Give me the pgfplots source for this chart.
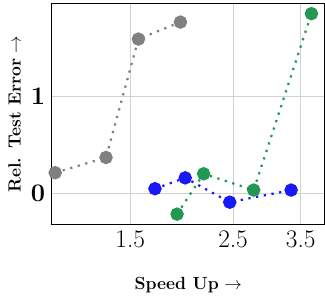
\documentclass[border=0pt]{standalone}
\usepackage{pgfplots}
\pgfplotsset{compat=1.18}
\definecolor{cgray}{RGB}{128,128,128}
\definecolor{cblue}{RGB}{25,25,245}
\definecolor{cgreen}{RGB}{35,152,85}
\begin{document}
\begin{tikzpicture}
\begin{axis}[
  scale only axis, width=268pt, height=217pt,
  xmode=log, xmin=1.016, xmax=3.94, ymin=-0.322, ymax=1.955,
  xtick={1.5,2.5,3.5}, xticklabels={1.5,2.5,3.5},
  ytick={0,1}, yticklabels={$\mathbf{0}$,$\mathbf{1}$},
  tick label style={font=\Huge},
  yticklabel style={xshift=-3pt},
  xticklabel style={yshift=-3pt},
  grid=major, grid style={gray!35, line width=0.6pt},
  tick style={draw=none},
  axis line style={line width=0.8pt},
  xlabel={\textbf{Speed Up} $\rightarrow$},
  ylabel={\textbf{Rel. Test Error} $\rightarrow$},
  label style={font=\LARGE},
  xlabel style={yshift=-22pt},
  ylabel shift=3pt,
  every axis plot/.append style={line width=2.2pt, dash pattern=on 2.2pt off 5.5pt, mark=*, mark size=5.5pt, mark options={solid}},
]
\addplot[color=cgray] coordinates {(1.033,0.21) (1.33,0.367) (1.562,1.588) (1.925,1.763)};
\addplot[color=cblue] coordinates {(1.696,0.045) (1.971,0.157) (2.459,-0.094) (3.336,0.031)};
\addplot[color=cgreen] coordinates {(1.893,-0.217) (2.16,0.199) (2.77,0.031) (3.69,1.85)};
\end{axis}
\path (current bounding box.west) ++(-5pt,0) coordinate (padL);
\path (current bounding box.north) ++(0,3pt) coordinate (padT);
\useasboundingbox (current bounding box.south east) rectangle (padL |- padT);
\end{tikzpicture}
\end{document}
